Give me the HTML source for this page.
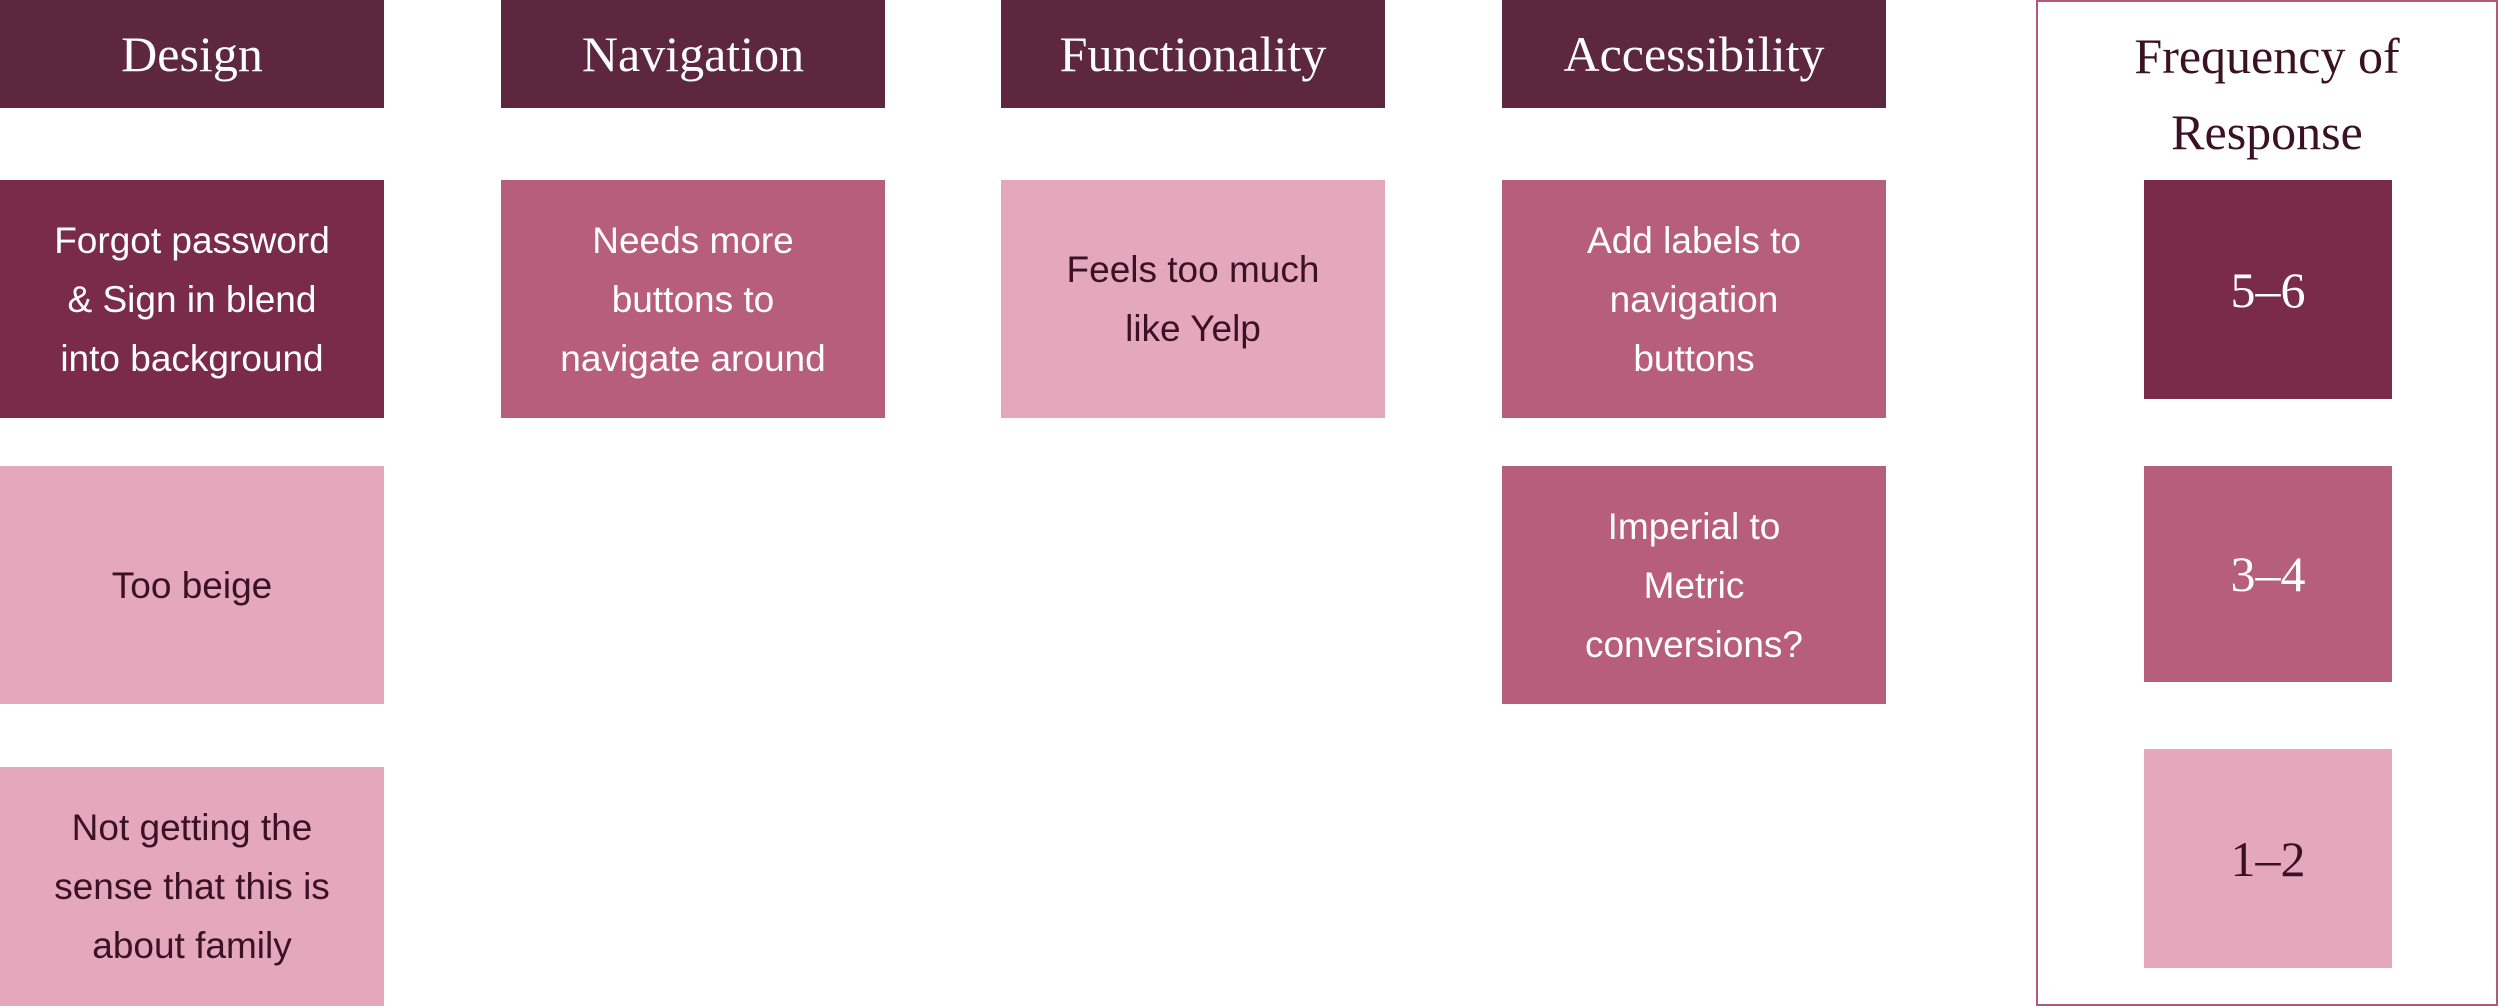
<!DOCTYPE html>
<html><head><meta charset="utf-8"><style>
html,body{margin:0;padding:0;background:#fff;}
body{width:2500px;height:1006px;position:relative;overflow:hidden;}
.b{position:absolute;display:flex;align-items:center;justify-content:center;text-align:center;box-sizing:border-box;}
.h{background:#5e2740;color:#fff;font-family:"Liberation Serif",serif;font-size:50px;height:108px;width:384px;top:0;}
.c{font-family:"Liberation Sans",sans-serif;font-size:37px;line-height:59px;width:384px;height:238px;padding:0 20px;}
.d{background:#7b2b4a;color:#fff;}
.m{background:#b85e7d;color:#fff;}
.l{background:#e4a7bc;color:#3a1222;}
.f{position:absolute;left:2036px;top:0;width:462px;height:1006px;border:2px solid #b5577a;box-sizing:border-box;}
.ft{position:absolute;left:2036px;top:18px;width:462px;text-align:center;font-family:"Liberation Serif",serif;font-size:50px;line-height:76px;color:#3a1222;}
.s{font-family:"Liberation Serif",serif;font-size:50px;width:248px;left:2144px;}
</style></head><body>
<div class="b h" style="left:0">Design</div>
<div class="b h" style="left:501px">Navigation</div>
<div class="b h" style="left:1001px">Functionality</div>
<div class="b h" style="left:1502px">Accessibility</div>

<div class="b c d" style="left:0;top:180px">Forgot password<br>&amp; Sign in blend<br>into background</div>
<div class="b c l" style="left:0;top:466px">Too beige</div>
<div class="b c l" style="left:0;top:767px;height:239px">Not getting the<br>sense that this is<br>about family</div>
<div class="b c m" style="left:501px;top:180px">Needs more<br>buttons to<br>navigate around</div>
<div class="b c l" style="left:1001px;top:180px">Feels too much<br>like Yelp</div>
<div class="b c m" style="left:1502px;top:180px">Add labels to<br>navigation<br>buttons</div>
<div class="b c m" style="left:1502px;top:466px">Imperial to<br>Metric<br>conversions?</div>

<div class="f"></div>
<div class="ft">Frequency of<br>Response</div>
<div class="b s d" style="top:180px;height:219px">5–6</div>
<div class="b s m" style="top:466px;height:216px">3–4</div>
<div class="b s l" style="top:749px;height:219px">1–2</div>
</body></html>
